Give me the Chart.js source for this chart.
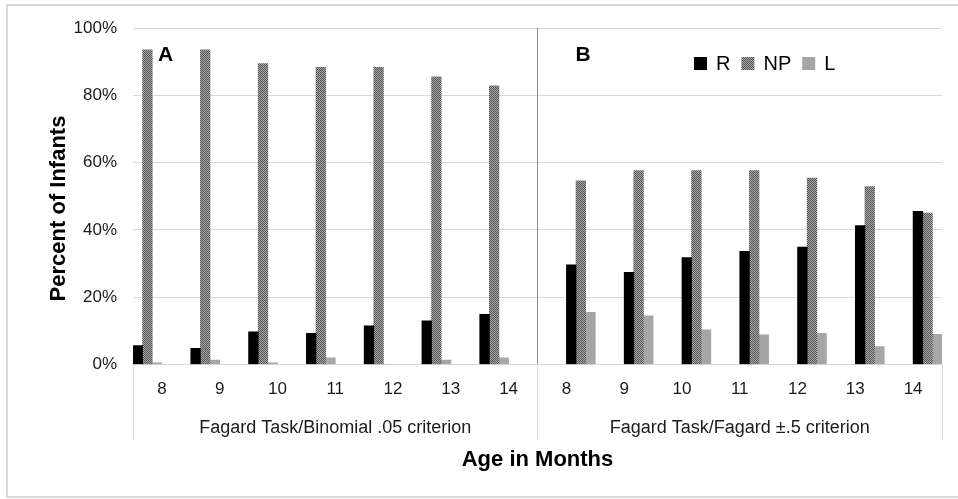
<!DOCTYPE html>
<html>
<head>
<meta charset="utf-8">
<title>Percent of Infants by Age</title>
<script src="https://cdn.jsdelivr.net/npm/chart.js@4.4.1/dist/chart.umd.min.js"></script>
<style>
    body { margin: 0; background: #fff; }
    #wrap { width: 958px; height: 499px; }
</style>
</head>
<body>
<div id="wrap"><canvas id="mycanvas" width="958" height="499"></canvas></div>
<script>
// categories
var months = ['8', '9', '10', '11', '12', '13', '14'];
var groups = ['Fagard Task/Binomial .05 criterion', 'Fagard Task/Fagard \u00b1.5 criterion'];
var seriesNames = ['R', 'NP', 'L'];
var panels = ['A', 'B'];
var yTicks = [0, 20, 40, 60, 80, 100];

// panel A (percent)
var rA  = [5.6, 4.8, 9.7, 9.3, 11.5, 13.0, 14.9];
var npA = [93.5, 93.5, 89.4, 88.3, 88.3, 85.5, 82.8];
var lA  = [0.5, 1.3, 0.5, 2.0, 0, 1.3, 2.0];

// panel B (percent)
var rB  = [29.6, 27.4, 31.8, 33.6, 34.9, 41.3, 45.5];
var npB = [54.6, 57.6, 57.6, 57.6, 55.4, 52.9, 45.0];
var lB  = [15.5, 14.5, 10.3, 8.8, 9.3, 5.3, 9.0];

var FONT = 'Liberation Sans';
Chart.defaults.font.family = FONT;
Chart.defaults.color = '#1a1a1a';

function checker() {
    var c = document.createElement('canvas');
    c.width = 2;
    c.height = 2;
    var g = c.getContext('2d');
    g.fillStyle = '#a8a8a8';
    g.fillRect(0, 0, 2, 2);
    g.fillStyle = '#555555';
    g.fillRect(0, 0, 1, 1);
    g.fillRect(1, 1, 1, 1);
    return g.createPattern(c, 'repeat');
}

var colors = ['#000000', checker(), '#a6a6a6'];
var blank = months.map(function () { return null; });

function panelSet(name, i, values, first) {
    return {
        label: name,
        data: first ? values.concat(blank) : blank.concat(values),
        backgroundColor: colors[i],
        borderWidth: 0,
        categoryPercentage: 1.0,
        barPercentage: 1.0
    };
}

var datasets = [
    panelSet(seriesNames[0], 0, rA, true),
    panelSet(seriesNames[1], 1, npA, true),
    panelSet(seriesNames[2], 2, lA, true),
    panelSet(seriesNames[0], 0, rB, false),
    panelSet(seriesNames[1], 1, npB, false),
    panelSet(seriesNames[2], 2, lB, false)
];

// frame, panel letters and the legend inside the plot
var extras = {
    id: 'extras',
    beforeDraw: function (chart) {
        var ctx = chart.ctx;
        ctx.save();
        ctx.strokeStyle = '#d9d9d9';
        ctx.lineWidth = 2;
        ctx.beginPath();
        ctx.moveTo(958, 5);
        ctx.lineTo(7, 5);
        ctx.lineTo(7, 497);
        ctx.lineTo(958, 497);
        ctx.stroke();
        ctx.restore();
    },
    afterDraw: function (chart) {
        var ctx = chart.ctx;
        var area = chart.chartArea;
        var mid = (area.left + area.right) / 2;
        ctx.save();
        ctx.fillStyle = '#000';
        ctx.textBaseline = 'middle';
        ctx.font = 'bold 21px "' + FONT + '"';
        ctx.fillText(panels[0], area.left + 25, 55);
        ctx.fillText(panels[1], mid + 38, 55);

        ctx.font = '20px "' + FONT + '"';
        var lx = 694;
        for (var i = 0; i < 3; i++) {
            ctx.fillStyle = colors[i];
            ctx.fillRect(lx, 57, 13, 13);
            ctx.fillStyle = '#000';
            ctx.fillText(seriesNames[i], lx + 22, 64);
            lx += 22 + ctx.measureText(seriesNames[i]).width + 11;
        }
        ctx.restore();
    }
};

var ctx = document.getElementById('mycanvas');
var chart = new Chart(ctx, {
    type: 'bar',
    data: {
        labels: months.concat(months),
        datasets: datasets
    },
    plugins: [extras],
    options: {
        responsive: false,
        animation: false,
        devicePixelRatio: 1,
        layout: { padding: { left: 0, top: 28, right: 16, bottom: 0 } },
        plugins: {
            legend: { display: false },
            tooltip: { enabled: false }
        },
        scales: {
            y: {
                min: 0,
                max: 100,
                afterBuildTicks: function (s) {
                    s.ticks = yTicks.map(function (v) { return { value: v }; });
                },
                ticks: {
                    padding: 16,
                    font: { size: 17 },
                    callback: function (v) { return v + '%'; }
                },
                grid: { color: '#d9d9d9', drawTicks: false },
                border: { display: false },
                title: {
                    display: true,
                    // trailing spaces nudge the rotated title a little lower
                    text: 'Percent of Infants    ',
                    color: '#000',
                    font: { size: 22, weight: 'bold' },
                    padding: { top: 46, bottom: 0 }
                },
                afterFit: function (s) { s.width = 133; }
            },
            x: {
                weight: 0,
                offset: true,
                grid: {
                    offset: true,
                    drawOnChartArea: true,
                    tickLength: 76,
                    color: function (c) {
                        return c.index === 7 ? '#8c8c8c' : 'rgba(0,0,0,0)';
                    },
                    tickColor: function (c) {
                        return (c.type !== 'tick' || c.index % 7 === 0) ? '#d9d9d9' : 'rgba(0,0,0,0)';
                    }
                },
                border: { display: true, color: '#d9d9d9' },
                ticks: {
                    padding: -61,
                    font: { size: 17 },
                    maxRotation: 0,
                    autoSkip: false
                },
                afterFit: function (s) { s.height = 46; }
            },
            x2: {
                type: 'category',
                labels: groups,
                position: 'bottom',
                weight: 1,
                offset: true,
                grid: { display: false, drawTicks: false },
                border: { display: false },
                ticks: { padding: 7, font: { size: 18 }, maxRotation: 0 },
                title: {
                    display: true,
                    text: 'Age in Months',
                    color: '#000',
                    font: { size: 22, weight: 'bold' },
                    padding: { top: 0, bottom: 26 }
                },
                afterFit: function (s) { s.height = 88.5; }
            }
        }
    }
});
</script>
</body>
</html>
